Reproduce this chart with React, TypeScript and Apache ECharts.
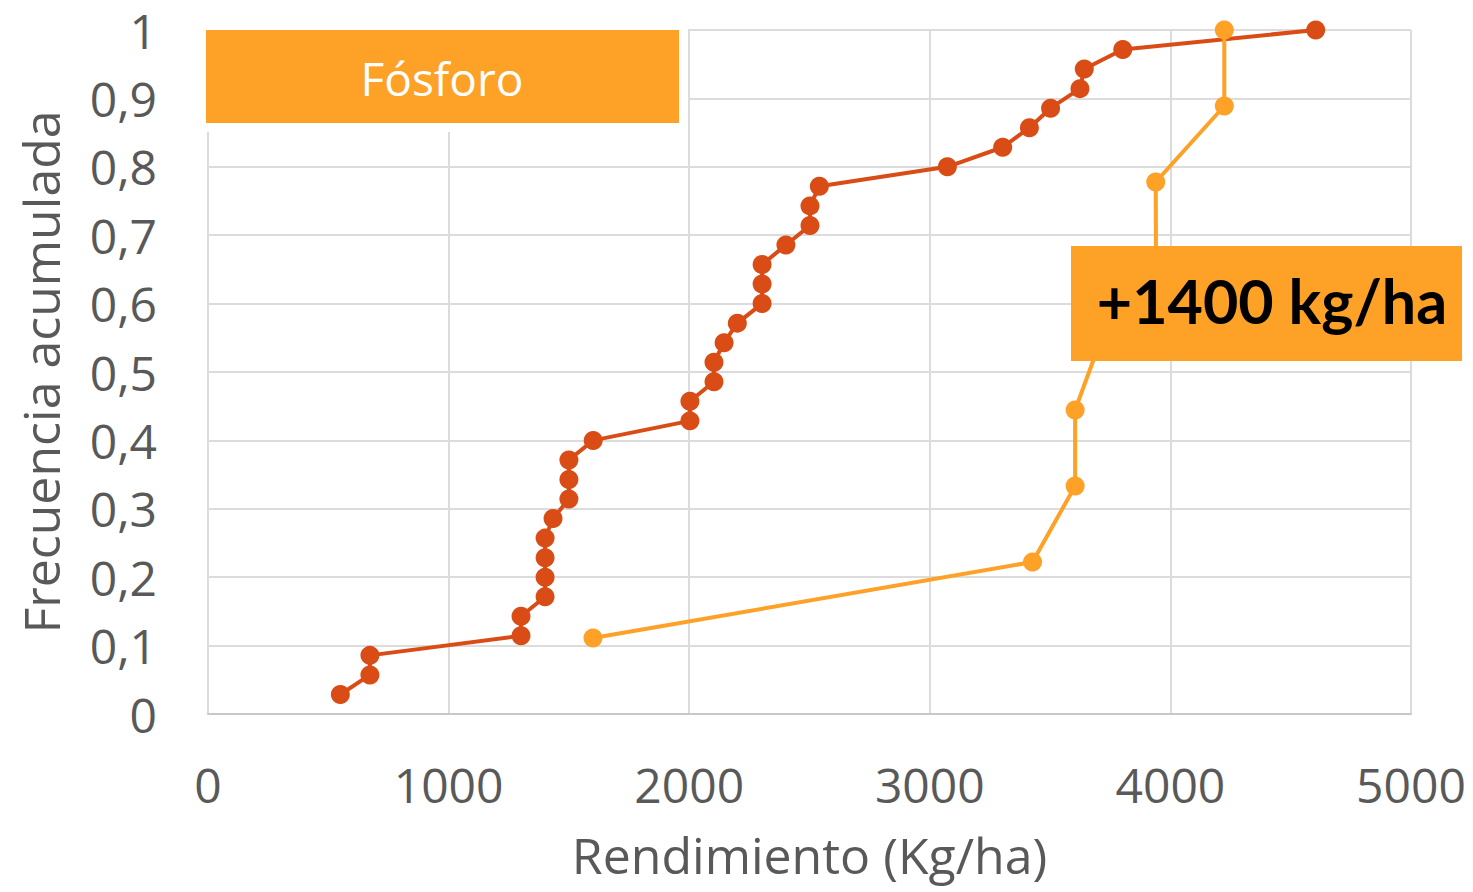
import React, { useEffect, useRef } from "react";
import * as echarts from "echarts";

const n1 = 35;
const fosforoBaseX = [550, 673, 673, 1301, 1301, 1401, 1401, 1401, 1401, 1434, 1500, 1500, 1500, 1601, 2003, 2003, 2103, 2103, 2145, 2200, 2303, 2303, 2303, 2402, 2502, 2502, 2541, 3073, 3303, 3414, 3502, 3624, 3642, 3802, 4604];
const fosforoBaseY = fosforoBaseX.map((_, i) => (i + 1) / n1);
const fosforoX = [1600, 3427, 3604, 3604, 3720, 3940, 3939, 4224, 4224];
const fosforoY = [1 / 9, 2 / 9, 3 / 9, 4 / 9, 5 / 9, 6 / 9, 7 / 9, 8 / 9, 1];
const xTicks = [0, 1000, 2000, 3000, 4000, 5000];
const titleLabel = "Fósforo";
const gainLabel = "+1400 kg/ha";

const RED = "#D94C15";
const ORANGE = "#FEA127";
const TXT = "#595959";
const FONT = "'Open Sans', sans-serif";

export default function App() {
  const ref = useRef<HTMLDivElement>(null);
  useEffect(() => {
    document.body.style.margin = "0";
    const chart = echarts.init(ref.current!, null, { renderer: "svg" });
    chart.setOption({
      animation: false,
      backgroundColor: "#ffffff",
      grid: { left: 208, right: 62, top: 30, bottom: 178 },
      xAxis: {
        type: "value",
        min: xTicks[0],
        max: xTicks[xTicks.length - 1],
        interval: 1000,
        name: "Rendimiento (Kg/ha)",
        nameLocation: "middle",
        nameGap: 116,
        nameTextStyle: { color: TXT, fontSize: 50, fontFamily: FONT },
        axisLine: { show: true, lineStyle: { color: "#c8c8c8", width: 2 } },
        axisTick: { show: false },
        axisLabel: { color: TXT, fontSize: 48, fontFamily: FONT, margin: 46, formatter: (v: number) => String(v) },
        splitLine: { show: true, lineStyle: { color: "#dcdcdc", width: 2 } },
      },
      yAxis: {
        type: "value",
        min: 0,
        max: 1,
        interval: 0.1,
        name: "Frecuencia acumulada",
        nameLocation: "middle",
        nameGap: 142,
        nameTextStyle: { color: TXT, fontSize: 50, fontFamily: FONT },
        axisLine: { show: false },
        axisTick: { show: false },
        axisLabel: {
          color: TXT,
          fontSize: 48,
          lineHeight: 44,
          fontFamily: FONT,
          margin: 51,
          formatter: (v: number) => (v === 0 || v === 1 ? String(Math.round(v)) : v.toFixed(1).replace(".", ",")),
        },
        splitLine: { show: true, lineStyle: { color: "#dcdcdc", width: 2 } },
      },
      series: [
        {
          type: "line",
          name: "base",
          data: fosforoBaseX.map((x, i) => [x, fosforoBaseY[i]]),
          symbol: "circle",
          symbolSize: 19,
          lineStyle: { color: RED, width: 4 },
          itemStyle: { color: RED },
          z: 2,
        },
        {
          type: "line",
          name: "fosforo",
          data: fosforoX.map((x, i) => [x, fosforoY[i]]),
          symbol: "circle",
          symbolSize: 19,
          lineStyle: { color: ORANGE, width: 4 },
          itemStyle: { color: ORANGE },
          z: 3,
        },
      ],
      graphic: [
        { type: "rect", left: 198, top: 22, shape: { width: 490, height: 110 }, style: { fill: "#ffffff" }, z: 10 },
        { type: "rect", left: 206, top: 30, shape: { width: 473, height: 93 }, style: { fill: ORANGE }, z: 11 },
        {
          type: "text",
          x: 442,
          y: 78,
          style: { text: titleLabel, fill: "#ffffff", font: `46px ${FONT}`, align: "center", verticalAlign: "middle" },
          z: 12,
        },
        { type: "rect", left: 1071, top: 246, shape: { width: 391, height: 115 }, style: { fill: ORANGE }, z: 11 },
        {
          type: "text",
          x: 1272,
          y: 300,
          style: { text: gainLabel, fill: "#000000", font: `bold 61px Lato, ${FONT}`, align: "center", verticalAlign: "middle" },
          z: 12,
        },
      ],
    });
    return () => chart.dispose();
  }, []);
  return <div ref={ref} style={{ position: "fixed", left: 0, top: 0, width: 1473, height: 892 }} />;
}
